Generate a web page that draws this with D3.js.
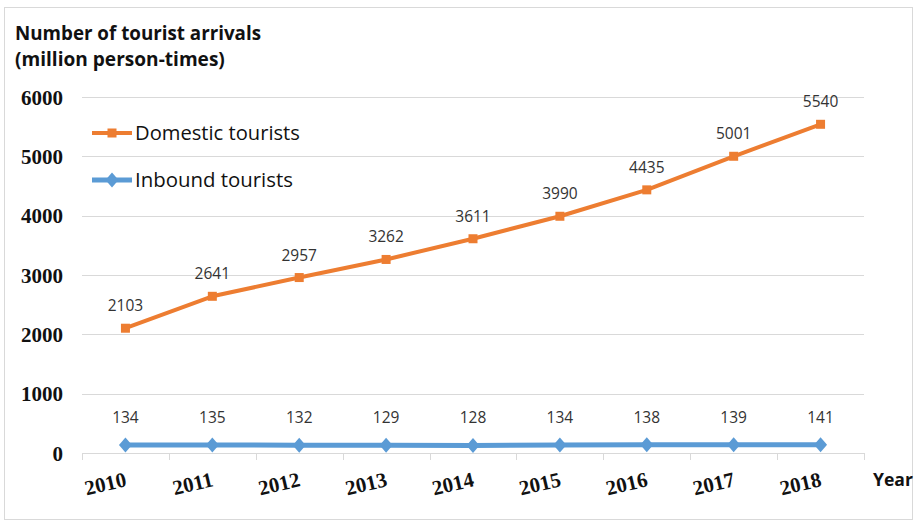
<!DOCTYPE html>
<html><head><meta charset="utf-8">
<script src="https://cdn.jsdelivr.net/npm/d3@7"></script>
<style>body{margin:0;background:#fff}svg{display:block}</style>
</head><body>
<svg id="c" width="916" height="523"></svg>
<script>
const years = ["2010","2011","2012","2013","2014","2015","2016","2017","2018"];
const domestic = [2103,2641,2957,3262,3611,3990,4435,5001,5540];
const inbound = [134,135,132,129,128,134,138,139,141];
const yTicks = [0,1000,2000,3000,4000,5000,6000];
const seriesNames = ["Domestic tourists","Inbound tourists"];
const titleLines = ["Number of tourist arrivals","(million person-times)"];
const xTitle = "Year";

(function(){
const svg = d3.select("#c");
const pL = 82, pR = 864, pT = 97, pB = 453;
const x = d3.scaleBand().domain(years).range([pL, pR]);
const y = d3.scaleLinear().domain([0, 6000]).range([pB, pT]);
const orange = "#ED7D31", blue = "#5B9BD5";
const sans = "'Open Sans', 'Noto Sans', sans-serif";
const serif = "'Liberation Serif', 'Times New Roman', serif";

function fit(sel, w) {
  sel.each(function(){
    const len = this.getComputedTextLength();
    const fs = parseFloat(d3.select(this).attr("font-size"));
    d3.select(this).attr("font-size", (fs * w / len).toFixed(2));
  });
}

// frame
svg.append("rect").attr("x", 4.5).attr("y", 7.5).attr("width", 908).attr("height", 512)
  .attr("fill", "#fff").attr("stroke", "#d9d9d9").attr("stroke-width", 1);

// gridlines
svg.append("g").selectAll("line").data(yTicks).join("line")
  .attr("x1", pL).attr("x2", pR)
  .attr("y1", d => Math.round(y(d)) + 0.5).attr("y2", d => Math.round(y(d)) + 0.5)
  .attr("stroke", "#d9d9d9").attr("stroke-width", 1);

// y axis labels
const yAxis = d3.axisLeft(y).tickValues(yTicks).tickSize(0).tickPadding(0).tickFormat(d3.format("d"));
const ya = svg.append("g").attr("transform", `translate(63,0)`).call(yAxis);
ya.select(".domain").remove();
ya.selectAll("text").attr("font-family", serif).attr("font-weight", "bold")
  .attr("font-size", 21).attr("fill", "#111").attr("dy", "0.34em");

// x ticks at band boundaries
const bounds = years.map(d => x(d)).concat([pR]);
svg.append("g").selectAll("line").data(bounds).join("line")
  .attr("x1", d => Math.round(d) + 0.5).attr("x2", d => Math.round(d) + 0.5)
  .attr("y1", pB).attr("y2", pB + 7)
  .attr("stroke", "#d9d9d9").attr("stroke-width", 1);

// x labels rotated
svg.append("g").selectAll("text").data(years).join("text")
  .attr("transform", d => `translate(${x(d) + x.bandwidth()/2 + 2},${pB + 33}) rotate(-13)`)
  .attr("text-anchor", "end")
  .attr("font-family", serif).attr("font-weight", "bold").attr("font-size", 21)
  .attr("fill", "#111").text(d => d);

// Year
svg.append("text").attr("x", 873).attr("y", 486)
  .attr("font-family", sans).attr("font-weight", "bold").attr("font-size", 17)
  .attr("fill", "#111").text(xTitle).call(fit, 40);

// title
svg.append("text").attr("x", 15).attr("y", 40)
  .attr("font-family", sans).attr("font-weight", "bold").attr("font-size", 17)
  .attr("fill", "#111").text(titleLines[0]).call(fit, 246);
svg.append("text").attr("x", 15).attr("y", 66)
  .attr("font-family", sans).attr("font-weight", "bold").attr("font-size", 17)
  .attr("fill", "#111").text(titleLines[1]).call(fit, 210);

const cx = d => x(d) + x.bandwidth()/2;
const line = d3.line().x((v, i) => cx(years[i])).y(v => y(v));

// domestic
svg.append("path").datum(domestic).attr("d", line)
  .attr("fill", "none").attr("stroke", orange).attr("stroke-width", 4).attr("stroke-linejoin", "round");
svg.append("g").selectAll("rect").data(domestic).join("rect")
  .attr("x", (v, i) => cx(years[i]) - 4.5).attr("y", v => y(v) - 4.5)
  .attr("width", 9).attr("height", 9).attr("fill", orange);
svg.append("g").selectAll("text").data(domestic).join("text")
  .attr("x", (v, i) => cx(years[i])).attr("y", v => y(v) - 17)
  .attr("text-anchor", "middle").attr("font-family", sans).attr("font-size", 15.5)
  .attr("fill", "#333").text(v => v);

// inbound
const diamond = (px, py) => `M${px},${py-7.5}L${px+6.5},${py}L${px},${py+7.5}L${px-6.5},${py}Z`;
svg.append("path").datum(inbound).attr("d", line)
  .attr("fill", "none").attr("stroke", blue).attr("stroke-width", 5).attr("stroke-linejoin", "round");
svg.append("g").selectAll("path").data(inbound).join("path")
  .attr("d", (v, i) => diamond(cx(years[i]), y(v))).attr("fill", blue);
svg.append("g").selectAll("text").data(inbound).join("text")
  .attr("x", (v, i) => cx(years[i])).attr("y", v => y(v) - 22)
  .attr("text-anchor", "middle").attr("font-family", sans).attr("font-size", 15.5)
  .attr("fill", "#333").text(v => v);

// legend
const leg = [{name: seriesNames[0], color: orange, y: 133, m: "sq"}, {name: seriesNames[1], color: blue, y: 180, m: "di"}];
const lg = svg.append("g");
leg.forEach(l => {
  lg.append("line").attr("x1", 92).attr("x2", 132).attr("y1", l.y).attr("y2", l.y)
    .attr("stroke", l.color).attr("stroke-width", l.m === "sq" ? 4 : 5);
  if (l.m === "sq") lg.append("rect").attr("x", 107.5).attr("y", l.y - 4.5).attr("width", 9).attr("height", 9).attr("fill", l.color);
  else lg.append("path").attr("d", diamond(112, l.y)).attr("fill", l.color);
  lg.append("text").attr("x", 135).attr("y", l.y + 7).attr("font-family", sans)
    .attr("font-size", 19).attr("fill", "#111").text(l.name)
    .call(fit, l.m === "sq" ? 165 : 158);
});
})();
</script>
</body></html>
